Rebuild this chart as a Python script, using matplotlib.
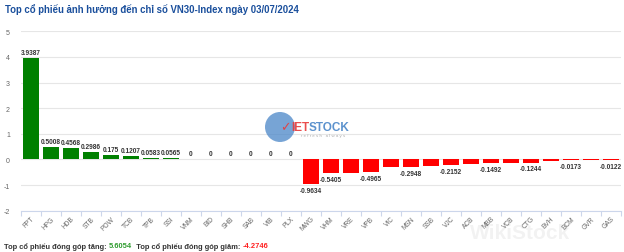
import matplotlib
matplotlib.use("Agg")
import matplotlib.pyplot as plt
from matplotlib.patches import Ellipse

plt.rcParams['font.family'] = ['Liberation Sans', 'DejaVu Sans']

# ---- data ----
tickers = ["FPT", "HPG", "HDB", "STB", "POW", "TCB", "TPB", "SSI", "VNM", "BID",
           "SHB", "SAB", "VIB", "PLX", "MWG", "VHM", "VRE", "VPB", "VIC", "MSN",
           "SSB", "VJC", "ACB", "MBB", "VCB", "CTG", "BVH", "BCM", "GVR", "GAS"]
impact = [3.9387, 0.5008, 0.4568, 0.2986, 0.175, 0.1207, 0.0583, 0.0565, 0, 0,
          0, 0, 0, 0, -0.9634, -0.5405, -0.51, -0.4965, -0.31, -0.2948,
          -0.266, -0.2152, -0.18, -0.1492, -0.135, -0.1244, -0.045, -0.0173, -0.0151, -0.0122]
label_shown = [True] * 14 + [True, True, False, True, False, True,
                             False, True, False, True, False, True, False, True, False, True]
y_ticks = [-2, -1, 0, 1, 2, 3, 4, 5]
title = "Top cổ phiếu ảnh hưởng đến chỉ số VN30-Index ngày 03/07/2024"
up_label = "Top cổ phiếu đóng góp tăng: "
up_total = "5.6054"
down_label = "Top cổ phiếu đóng góp giảm: "
down_total = "-4.2746"

W, H = 624, 253
fig = plt.figure(figsize=(W / 100, H / 100), dpi=100)
ax = fig.add_axes([21 / W, 1 - 211.7 / H, 600 / W, (211.7 - 32.3) / H])

x = list(range(len(tickers)))
colors = ["#008000" if v > 0 else "#ff0000" for v in impact]
ax.bar(x, impact, width=0.8, color=colors, zorder=3)

ax.set_xlim(-0.5, len(tickers) - 0.5)
ax.set_ylim(-2, 5)
ax.set_yticks(y_ticks)
ax.set_yticklabels([str(t) for t in y_ticks])
ax.grid(axis='y', color='#e6e6e6', linewidth=0.8, zorder=0)
ax.grid(axis='x', visible=False)
for s in ['top', 'right', 'left']:
    ax.spines[s].set_visible(False)
ax.spines['bottom'].set_color('#ccd6eb')
ax.spines['bottom'].set_linewidth(0.8)
ax.tick_params(axis='y', length=0, pad=8, labelsize=5, labelcolor='#666666')

ax.set_xticks(x)
ax.set_xticklabels(tickers, rotation=45, ha='right', rotation_mode='anchor')
ax.tick_params(axis='x', which='major', length=0, pad=3, labelsize=4.8, labelcolor='#666666')
ax.set_xticks([i - 0.5 for i in range(len(tickers) + 1)], minor=True)
ax.tick_params(axis='x', which='minor', length=3.5, color='#ccd6eb', width=0.8)

for xi, v, show in zip(x, impact, label_shown):
    if not show:
        continue
    txt = f"{v:g}"
    if v >= 0:
        ax.annotate(txt, (xi, v), xytext=(0, 1.5), textcoords='offset points',
                    ha='center', va='bottom', fontsize=4.7, fontweight='bold', color='#333333', zorder=5)
    else:
        ax.annotate(txt, (xi, v), xytext=(0, -2), textcoords='offset points',
                    ha='center', va='top', fontsize=4.7, fontweight='bold', color='#333333', zorder=5)

# watermark (VietStock logo approximation)
fig.patches.append(Ellipse((280 / W, 1 - 128 / H), 30 / W, 30 / H, transform=fig.transFigure,
                           facecolor='#4a86c8', alpha=0.75, edgecolor='none', zorder=1))
fig.text(280 / W, 1 - 128 / H, "✓", color='#e83a3a', fontsize=9, fontweight='bold',
         family='DejaVu Sans', va='center', ha='left', alpha=0.9)
fig.text(291 / W, 1 - 128 / H, "IET", color='#e83a3a', fontsize=8.5, fontweight='bold',
         va='center', ha='left', alpha=0.9)
fig.text(309 / W, 1 - 128 / H, "STOCK", color='#4a86c8', fontsize=8.5, fontweight='bold',
         va='center', ha='left', alpha=0.9)
fig.text(301 / W, 1 - 136 / H, "r e f r e s h   a l w a y s", color='#9a9a9a', fontsize=3.2,
         va='center', ha='left', alpha=0.8)
# WikiStock watermark
fig.text(470 / W, 1 - 234 / H, "WikiStock", color='#000000', fontsize=15, fontweight='bold',
         va='center', ha='left', alpha=0.05)

# title
fig.text(5 / W, 1 - 10 / H, title, color='#1a4f9c', fontsize=6.9, fontweight='bold',
         va='center', ha='left')

# bottom summary
fig.canvas.draw()
renderer = fig.canvas.get_renderer()
xpos = 4
ypos = 1 - 247 / H
for s, c in [(up_label, '#333333'), (up_total, '#2e9c2e'), ("  " + down_label, '#333333'), (down_total, '#ff2020')]:
    t = fig.text(xpos / W, ypos, s, color=c, fontsize=5.4, fontweight='bold', va='center', ha='left')
    bb = t.get_window_extent(renderer)
    xpos += bb.width

fig.savefig("out.png", dpi=100)
